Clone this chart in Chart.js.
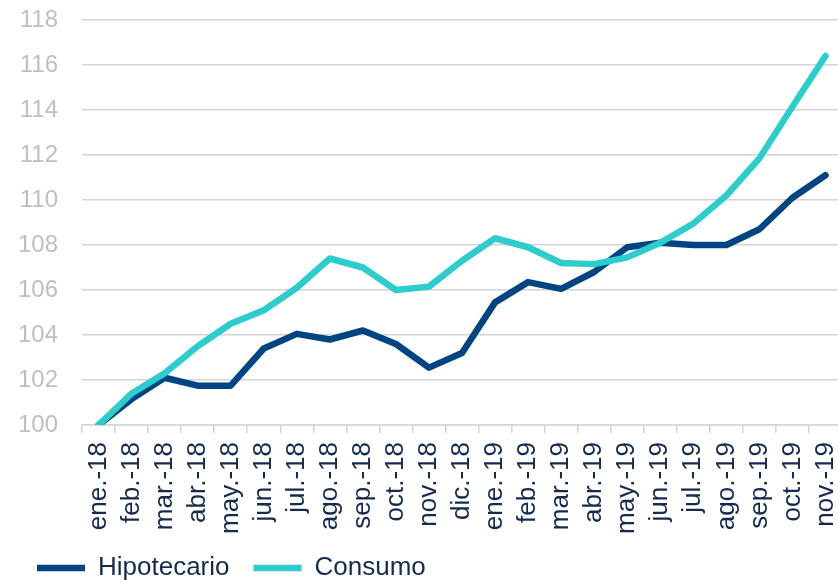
<!DOCTYPE html>
<html><head><meta charset="utf-8">
<script src="https://cdn.jsdelivr.net/npm/chart.js@4"></script>
<style>
html,body{margin:0;padding:0;overflow:hidden;background:#fff;width:838px;height:580px}
#wrap{position:absolute;left:0;top:0;width:842px;height:591px}
</style>
</head><body><div id="wrap"><canvas id="c" width="842" height="591"></canvas></div>
<script>
const categories = ['ene.-18','feb.-18','mar.-18','abr.-18','may.-18','jun.-18','jul.-18','ago.-18','sep.-18','oct.-18','nov.-18','dic.-18','ene.-19','feb.-19','mar.-19','abr.-19','may.-19','jun.-19','jul.-19','ago.-19','sep.-19','oct.-19','nov.-19'];
const hipotecario = [100.0, 101.15, 102.1, 101.75, 101.75, 103.4, 104.05, 103.8, 104.2, 103.6, 102.55, 103.2, 105.45, 106.35, 106.05, 106.8, 107.9, 108.1, 108.0, 108.0, 108.7, 110.1, 111.1];
const consumo = [100.0, 101.4, 102.3, 103.5, 104.5, 105.1, 106.1, 107.4, 107.0, 106.0, 106.15, 107.3, 108.3, 107.9, 107.2, 107.15, 107.45, 108.1, 108.95, 110.2, 111.85, 114.15, 116.4];
const seriesNames = ['Hipotecario', 'Consumo'];
const yMin = 100, yMax = 118, yStep = 2;

const gridColor = '#D4D4D4';
const textDark = '#142b4f';

const noLabelClip = {
  id: 'noLabelClip',
  afterLayout(chart) {
    const s = chart.scales.x;
    if (s) s._computeLabelArea = function () { return undefined; };
  }
};

new Chart(document.getElementById('c'), {
  type: 'line',
  data: {
    labels: categories,
    datasets: [
      { label: seriesNames[0], data: hipotecario, borderColor: '#004481', backgroundColor: '#004481',
        borderWidth: 6.5, pointRadius: 0, pointHoverRadius: 0, tension: 0, fill: false,
        borderCapStyle: 'round', borderJoinStyle: 'round', order: 1 },
      { label: seriesNames[1], data: consumo, borderColor: '#2DCCCD', backgroundColor: '#2DCCCD',
        borderWidth: 6.5, pointRadius: 0, pointHoverRadius: 0, tension: 0, fill: false,
        borderCapStyle: 'round', borderJoinStyle: 'round', order: 0 }
    ]
  },
  options: {
    responsive: false,
    animation: false,
    devicePixelRatio: 1,
    events: [],
    layout: { autoPadding: false, padding: { left: 13, top: 20, right: 0, bottom: 0 } },
    scales: {
      x: {
        type: 'category',
        offset: true,
        grid: { display: true, drawOnChartArea: false, drawTicks: true, tickLength: 8, color: gridColor, lineWidth: 1.5, offset: true },
        border: { display: true, color: gridColor, width: 1.5 },
        ticks: { minRotation: 90, maxRotation: 90, autoSkip: false, padding: 9, color: textDark,
          font: { family: "'Liberation Sans', Arial, sans-serif", size: 26 } },
        afterFit(s) { s.height = 106; s.paddingLeft = 0; s.paddingRight = 0; }
      },
      y: {
        min: yMin, max: yMax,
        grid: { color: gridColor, lineWidth: 1.5, drawTicks: false },
        border: { display: false },
        ticks: { stepSize: yStep, padding: 24, color: '#BFBFBF',
          font: { family: "'Liberation Sans', Arial, sans-serif", size: 24 } },
        afterFit(s) { s.width = 69; s.paddingTop = 0; s.paddingBottom = 0; }
      }
    },
    plugins: {
      tooltip: { enabled: false },
      legend: {
        position: 'bottom',
        align: 'start',
        labels: {
          usePointStyle: true, pointStyle: 'line', pointStyleWidth: 48, padding: 24,
          color: textDark,
          font: { family: "'Liberation Sans', Arial, sans-serif", size: 26 },
          sort: (a, b) => a.datasetIndex - b.datasetIndex
        }
      }
    }
  },
  plugins: [noLabelClip]
});
</script>
</body></html>
